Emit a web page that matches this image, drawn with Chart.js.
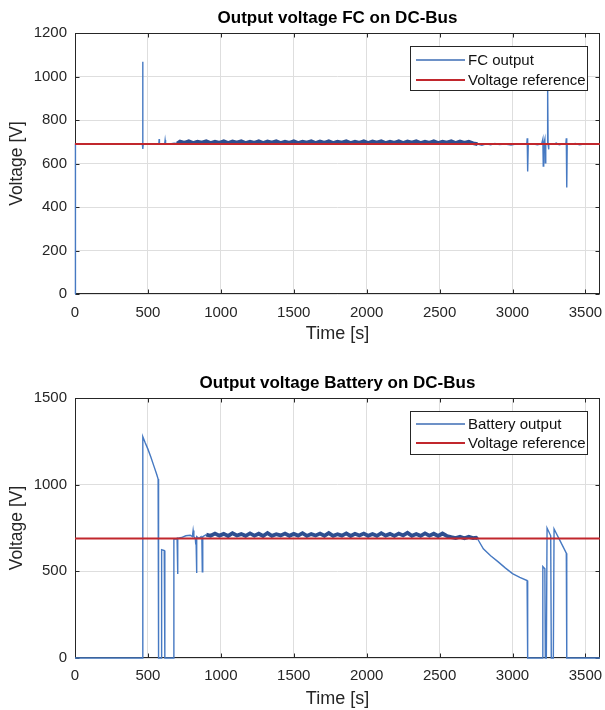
<!DOCTYPE html>
<html>
<head>
<meta charset="utf-8">
<script src="https://cdn.jsdelivr.net/npm/chart.js@4.4.1/dist/chart.umd.min.js"></script>
<style>
  html, body { margin: 0; padding: 0; background: #fff; }
  body { width: 605px; height: 710px; position: relative; overflow: hidden; }
  canvas { position: absolute; left: 0; display: block; }
  #fc-chart { top: 0; }
  #bat-chart { top: 358px; }
</style>
</head>
<body>
<canvas id="fc-chart" width="605" height="350"></canvas>
<canvas id="bat-chart" width="605" height="352"></canvas>
<script>
// ---- data ----
const timeTicks = [0, 500, 1000, 1500, 2000, 2500, 3000, 3500];
const fcVoltTicks = [0, 200, 400, 600, 800, 1000, 1200];
const batVoltTicks = [0, 500, 1000, 1500];

const refTime = [0, 3600];
const refVolt = [690, 690];

// FC output voltage
const fcTime = [
  0, 3, 60, 120, 200, 300, 400, 462, 464, 466, 468, 520, 575, 577, 579, 615, 618, 621, 650, 680, 700,
  720, 750, 780, 810, 840, 870, 900, 930, 960, 990, 1020, 1050, 1080, 1110, 1140, 1170, 1200, 1230,
  1260, 1290, 1320, 1350, 1380, 1410, 1440, 1470, 1500, 1530, 1560, 1590, 1620, 1650, 1680, 1710,
  1740, 1770, 1800, 1830, 1860, 1890, 1920, 1950, 1980, 2010, 2040, 2070, 2100, 2130, 2160, 2190,
  2220, 2250, 2280, 2310, 2340, 2370, 2400, 2430, 2460, 2490, 2520, 2550, 2580, 2610, 2640, 2670,
  2700, 2730,
  2760, 2790, 2820, 2850, 2880, 2910, 2950, 2990, 3030, 3070, 3098, 3101, 3103, 3105, 3108, 3140,
  3170, 3200, 3208, 3211, 3214, 3222, 3225, 3228, 3238, 3241, 3244, 3247, 3250, 3280, 3300, 3320,
  3350, 3366, 3369, 3372, 3375, 3400, 3430, 3460, 3500, 3540, 3600
];
const fcVolt = [
  0, 690, 688, 689, 688, 689, 688, 689, 1068, 667, 690, 689, 690, 712, 690, 691, 708, 692, 690, 693, 692,
  701, 695, 702, 694, 700, 696, 702, 694, 700, 695,
  702, 694, 701, 696, 702, 694, 700, 695, 702, 694,
  701, 696, 702, 694, 700, 695, 702, 694, 700, 696,
  702, 694, 701, 695, 702, 694, 700, 696, 702, 694,
  700, 695, 702, 694, 701, 696, 702, 694, 700, 695,
  702, 694, 701, 696, 702, 694, 700, 695, 702, 694,
  700, 696, 702, 694, 701, 695, 700, 693,
  689, 684, 690, 686, 692, 687, 689, 685, 691, 688, 690, 716, 690, 563, 688, 690,
  686, 690, 712, 588, 688, 712, 603, 690, 690, 960, 690, 665, 690, 688, 694, 686,
  690, 690, 716, 490, 690, 688, 692, 686, 690, 688, 690
];

// Battery output voltage
const batTime = [
  0, 463, 465, 480, 500, 520, 540, 560, 570, 573, 590, 594, 612, 616, 672, 678, 695, 700, 703, 706,
  730, 760, 790, 805, 810, 815, 825, 828, 830, 833, 836, 850, 865, 870, 873, 876,
  900, 930, 960, 990, 1020, 1050, 1080, 1110, 1140, 1170, 1200, 1230, 1260, 1290, 1320, 1350, 1380,
  1410, 1440, 1470, 1500, 1530, 1560, 1590, 1620, 1650, 1680, 1710, 1740, 1770, 1800, 1830, 1860,
  1890, 1920, 1950, 1980, 2010, 2040, 2070, 2100, 2130, 2160, 2190, 2220, 2250, 2280, 2310, 2340,
  2370, 2400, 2430, 2460, 2490, 2520, 2550,
  2580, 2610, 2640, 2670, 2700, 2730, 2750,
  2760, 2800, 2850, 2900, 2950, 3000, 3050, 3100, 3104, 3205, 3208, 3222, 3225, 3232, 3237, 3262,
  3266, 3280, 3285, 3300, 3330, 3369, 3372, 3600
];
const batVolt = [
  0, 0, 1277, 1245, 1205, 1160, 1110, 1060, 1032, 0, 0, 625, 620, 0, 0, 685, 688, 690, 485, 690,
  695, 705, 708, 700, 735, 700, 690, 655, 690, 490, 700, 690, 700, 690, 497, 700,
  712, 705, 718, 706, 716, 704, 720, 707, 715, 705,
  719, 706, 717, 704, 721, 705, 714, 707, 718, 705,
  716, 706, 720, 704, 715, 707, 718, 705, 721, 705,
  714, 706, 719, 704, 717, 707, 718, 705, 715, 705,
  720, 706, 716, 704, 718, 707, 722, 705, 715, 705,
  719, 706, 717, 704, 718, 704,
  697, 692, 700, 691, 699, 692, 694,
  688, 630, 590, 556, 520, 487, 465, 447, 0, 0, 528, 515, 0, 0, 750, 705,
  0, 0, 745, 720, 670, 605, 0, 0
];

// ---- styling ----
const FONT = "'Liberation Sans', Arial, Helvetica, sans-serif";
Chart.defaults.font.family = FONT;
Chart.defaults.color = '#262626';

const BLUE = '#4679c2';
const BLUE_DARK = '#2e4f90';
const RED = '#c1272d';

function toPoints(xs, ys) {
  return xs.map((x, i) => ({ x: x, y: ys[i] }));
}

// the dense noisy stretch looks like a thick dark band in the original
function inBand(ctx, band) {
  const x0 = ctx.p0.parsed.x, x1 = ctx.p1.parsed.x;
  const y0 = ctx.p0.parsed.y, y1 = ctx.p1.parsed.y;
  return x0 >= band[0] && x1 <= band[1] && Math.abs(y1 - y0) < 40;
}

// box + inward tick marks like the original
const framePlugin = {
  id: 'frame',
  beforeDatasetsDraw(chart) {
    const { ctx, chartArea: a, scales } = chart;
    const L = Math.round(a.left) + 0.5, R = Math.round(a.right) - 0.5;
    const T = Math.round(a.top) + 0.5, B = Math.round(a.bottom) - 0.5;
    ctx.save();
    ctx.strokeStyle = '#262626';
    ctx.lineWidth = 1;
    ctx.beginPath();
    scales.x.ticks.forEach(t => {
      const px = Math.round(scales.x.getPixelForValue(t.value)) + 0.5;
      ctx.moveTo(px, B); ctx.lineTo(px, B - 4);
      ctx.moveTo(px, T); ctx.lineTo(px, T + 4);
    });
    scales.y.ticks.forEach(t => {
      const py = Math.round(scales.y.getPixelForValue(t.value)) + 0.5;
      ctx.moveTo(L, py); ctx.lineTo(L + 4, py);
      ctx.moveTo(R, py); ctx.lineTo(R - 4, py);
    });
    ctx.stroke();
    ctx.strokeRect(L, T, R - L, B - T);
    ctx.restore();
  }
};

// MATLAB-style boxed legend in the upper right corner
const boxLegendPlugin = {
  id: 'boxLegend',
  afterDatasetsDraw(chart, args, opts) {
    const { ctx, chartArea } = chart;
    const x = Math.round(chartArea.right - opts.right - opts.width);
    const y = Math.round(chartArea.top + opts.top);
    ctx.save();
    ctx.fillStyle = '#fff';
    ctx.fillRect(x, y, opts.width, opts.height);
    ctx.strokeStyle = '#262626';
    ctx.lineWidth = 1;
    ctx.strokeRect(x + 0.5, y + 0.5, opts.width, opts.height);
    ctx.font = '15px ' + FONT;
    ctx.textBaseline = 'middle';
    chart.data.datasets.forEach((ds, i) => {
      const rowY = y + opts.rowTop + i * opts.rowGap;
      ctx.strokeStyle = ds.legendColor;
      ctx.lineWidth = ds.legendWidth;
      ctx.beginPath();
      ctx.moveTo(x + 6, rowY);
      ctx.lineTo(x + 55, rowY);
      ctx.stroke();
      ctx.fillStyle = '#111';
      ctx.fillText(ds.label, x + 58, rowY + 1);
    });
    ctx.restore();
  }
};

function buildChart(canvas, cfg) {
  return new Chart(canvas, {
    type: 'line',
    data: {
      datasets: [
        {
          label: cfg.seriesLabel,
          data: toPoints(cfg.time, cfg.volt),
          borderColor: BLUE,
          legendColor: '#3d6db5',
          legendWidth: 1.5,
          borderWidth: 1.4,
          pointRadius: 0,
          tension: 0,
          clip: 3,
          order: 2,
          segment: {
            borderColor: ctx => inBand(ctx, cfg.band) ? BLUE_DARK : BLUE,
            borderWidth: ctx => inBand(ctx, cfg.band) ? 3.8 : 1.4
          }
        },
        {
          label: 'Voltage reference',
          data: toPoints(refTime, refVolt),
          borderColor: RED,
          legendColor: RED,
          legendWidth: 2,
          borderWidth: 2,
          pointRadius: 0,
          clip: 3,
          order: 1
        }
      ]
    },
    options: {
      responsive: false,
      animation: false,
      events: [],
      layout: { padding: { left: 0, right: 5, top: 0, bottom: 0 } },
      plugins: {
        legend: { display: false },
        tooltip: { enabled: false },
        title: {
          display: true,
          text: cfg.title,
          fullSize: false,
          color: '#000',
          font: { size: 17, weight: 'bold' },
          padding: cfg.titlePadding
        },
        boxLegend: cfg.legendBox
      },
      scales: {
        x: {
          type: 'linear',
          min: 0,
          max: 3600,
          afterBuildTicks: s => { s.ticks = timeTicks.map(v => ({ value: v })); },
          afterFit: s => { s.height = cfg.xAxisHeight; s.paddingLeft = 0; s.paddingRight = 0; },
          ticks: {
            autoSkip: false, maxRotation: 0, padding: cfg.xTickPad,
            font: { size: 15 }, color: '#262626',
            callback: v => String(v)
          },
          grid: { color: '#dedede', drawTicks: false },
          border: { display: false },
          title: { display: true, text: 'Time [s]', font: { size: 18 }, color: '#262626', padding: { top: 0, bottom: cfg.xTitlePad } }
        },
        y: {
          type: 'linear',
          min: 0,
          max: cfg.yMax,
          afterBuildTicks: s => { s.ticks = cfg.yTicks.map(v => ({ value: v })); },
          afterFit: s => { s.width = 75; s.paddingTop = 0; s.paddingBottom = 0; },
          ticks: { padding: 8, font: { size: 15 }, color: '#262626', callback: v => String(v) },
          grid: { color: '#dedede', drawTicks: false },
          border: { display: false },
          title: { display: true, text: 'Voltage [V]', font: { size: 17.5 }, color: '#262626', padding: { top: 7, bottom: 0 } }
        }
      }
    },
    plugins: [framePlugin, boxLegendPlugin]
  });
}

document.addEventListener('DOMContentLoaded', () => {
  buildChart(document.getElementById('fc-chart'), {
    title: 'Output voltage FC on DC-Bus',
    seriesLabel: 'FC output',
    time: fcTime,
    volt: fcVolt,
    band: [700, 2760],
    yMax: 1200,
    yTicks: fcVoltTicks,
    titlePadding: { top: 8, bottom: 4.6 },
    xAxisHeight: 56,
    xTickPad: 10,
    xTitlePad: 5,
    legendBox: { right: 13, top: 13, width: 177, height: 44, rowTop: 14, rowGap: 20 }
  });

  buildChart(document.getElementById('bat-chart'), {
    title: 'Output voltage Battery on DC-Bus',
    seriesLabel: 'Battery output',
    time: batTime,
    volt: batVolt,
    band: [890, 2760],
    yMax: 1500,
    yTicks: batVoltTicks,
    titlePadding: { top: 15, bottom: 4.6 },
    xAxisHeight: 52,
    xTickPad: 9,
    xTitlePad: 0,
    legendBox: { right: 13, top: 13, width: 177, height: 43, rowTop: 13, rowGap: 19 }
  });
});
</script>
</body>
</html>
